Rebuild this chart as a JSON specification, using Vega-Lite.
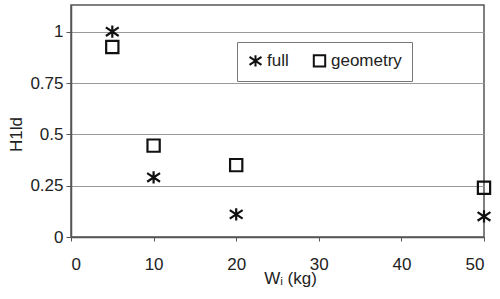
{
  "$schema": "https://vega.github.io/schema/vega-lite/v6.json",
  "width": 413,
  "height": 232,
  "autosize": "none",
  "padding": {"left": 71, "top": 5, "right": 16, "bottom": 62},
  "background": "white",
  "config": {
    "font": "Liberation Sans",
    "view": {"stroke": "#555", "strokeWidth": 1.5}
  },
  "data": {
    "values": [
      {"w": 5, "h": 1.0, "series": "full"},
      {"w": 10, "h": 0.29, "series": "full"},
      {"w": 20, "h": 0.11, "series": "full"},
      {"w": 50, "h": 0.10, "series": "full"},
      {"w": 5, "h": 0.925, "series": "geometry"},
      {"w": 10, "h": 0.445, "series": "geometry"},
      {"w": 20, "h": 0.35, "series": "geometry"},
      {"w": 50, "h": 0.24, "series": "geometry"}
    ]
  },
  "mark": {"type": "point", "filled": false, "strokeWidth": 2.2, "size": 150, "opacity": 1, "clip": false},
  "encoding": {
    "x": {
      "field": "w", "type": "quantitative",
      "scale": {"domain": [0, 50], "nice": false},
      "axis": {
        "values": [0, 10, 20, 30, 40, 50], "grid": false,
        "title": "Wᵢ (kg)", "titleFont": "Liberation Sans", "titleFontSize": 17, "titleFontWeight": "normal",
        "titleColor": "#222", "titlePadding": -2, "titleX": 219,
        "labelFontSize": 17, "labelColor": "#222", "labelPadding": 15,
        "domainColor": "#555", "domainWidth": 1.5, "tickColor": "#555", "tickSize": 4
      }
    },
    "y": {
      "field": "h", "type": "quantitative",
      "scale": {"domain": [0, 1.13], "nice": false},
      "axis": {
        "values": [0, 0.25, 0.5, 0.75, 1], "labelExpr": "'' + datum.value",
        "grid": true, "gridColor": "#999", "gridWidth": 1,
        "title": "H1ld", "titleFont": "Liberation Sans", "titleFontSize": 17, "titleFontWeight": "normal",
        "titleColor": "#222", "titleX": -46, "titleY": 129,
        "labelFontSize": 17, "labelColor": "#222", "labelPadding": 3,
        "domainColor": "#555", "domainWidth": 1.5, "tickColor": "#555", "tickSize": 5
      }
    },
    "shape": {
      "field": "series", "type": "nominal",
      "scale": {
        "domain": ["full", "geometry"],
        "range": ["M0,-1V1M-1.05,-0.7L1.05,0.7M-1.05,0.7L1.05,-0.7", "square"]
      },
      "legend": {
        "title": null, "orient": "none", "legendX": 166, "legendY": 37,
        "direction": "horizontal", "strokeColor": "#777", "fillColor": "white",
        "padding": 10, "labelFontSize": 17, "labelColor": "#222",
        "symbolSize": 130, "symbolStrokeWidth": 2, "symbolStrokeColor": "#111",
        "symbolFillColor": "transparent", "columnPadding": 20, "labelOffset": 3
      }
    },
    "color": {"value": "#111"}
  }
}
